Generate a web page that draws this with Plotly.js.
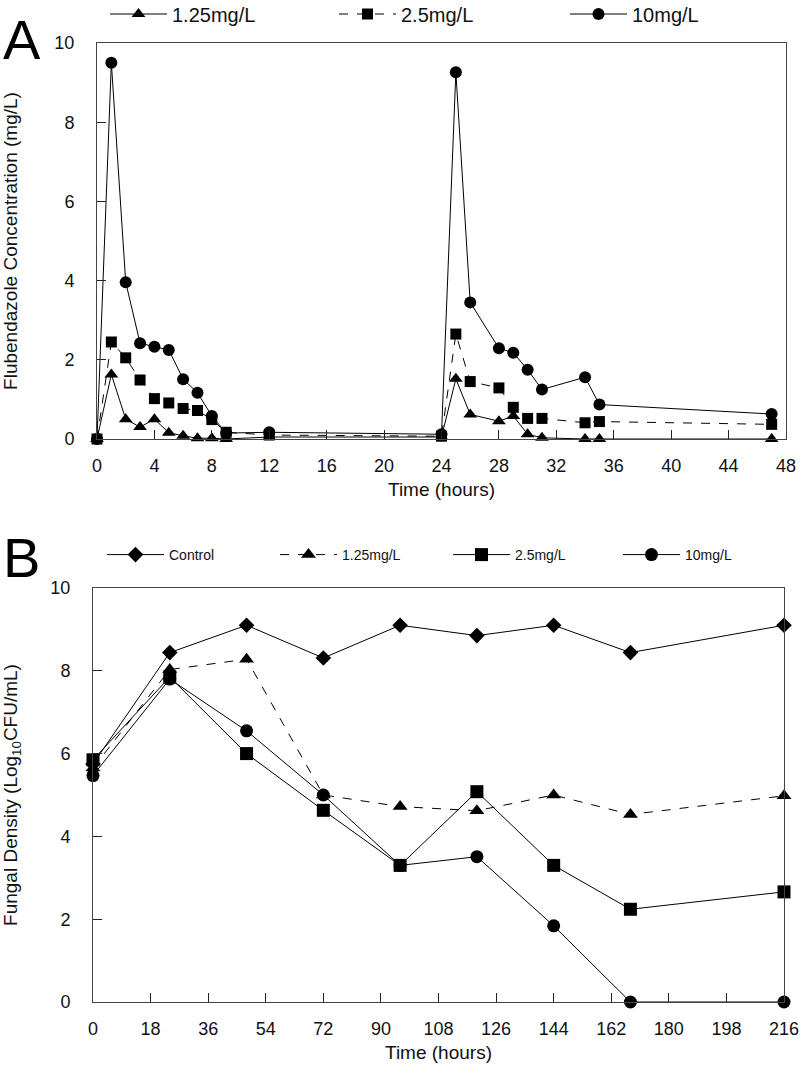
<!DOCTYPE html>
<html>
<head>
<meta charset="utf-8">
<script src="https://cdn.plot.ly/plotly-3.0.1.min.js"></script>
<style>html,body{margin:0;padding:0;background:#fff;}#chart{width:800px;height:1068px;}</style>
</head>
<body>
<div id="chart"></div>
<script>
// ---- Panel A: flubendazole concentration (mg/L) vs time (hours)
const timeA = [0, 1, 2, 3, 4, 5, 6, 7, 8, 9, 12, 24, 25, 26, 28, 29, 30, 31, 34, 35, 47];
const concA_125 = [0, 1.63, 0.50, 0.30, 0.50, 0.16, 0.08, 0.02, 0.02, 0.00, 0.05, 0.05, 1.52, 0.62, 0.45, 0.58, 0.12, 0.03, 0.00, 0.00, 0.00];
const concA_25  = [0, 2.45, 2.05, 1.49, 1.02, 0.91, 0.77, 0.72, 0.49, 0.17, 0.10, 0.07, 2.65, 1.45, 1.29, 0.80, 0.52, 0.52, 0.41, 0.44, 0.37];
const concA_10  = [0, 9.50, 3.96, 2.42, 2.33, 2.25, 1.51, 1.17, 0.58, 0.15, 0.17, 0.12, 9.26, 3.45, 2.29, 2.18, 1.75, 1.25, 1.56, 0.87, 0.63];
const namesA = ['1.25mg/L', '2.5mg/L', '10mg/L'];
const ticksAx = [0, 4, 8, 12, 16, 20, 24, 28, 32, 36, 40, 44, 48];
const ticksAy = [0, 2, 4, 6, 8, 10];

// ---- Panel B: fungal density (log10 CFU/mL) vs time (hours)
const timeB = [0, 24, 48, 72, 96, 120, 144, 168, 216];
const densB_control = [5.75, 8.44, 9.10, 8.31, 9.10, 8.85, 9.10, 8.44, 9.10];
const densB_125     = [5.65, 8.03, 8.28, 5.00, 4.72, 4.62, 5.00, 4.53, 4.98];
const densB_25      = [5.85, 7.85, 6.00, 4.63, 3.30, 5.08, 3.30, 2.24, 2.66];
const densB_10      = [5.47, 7.80, 6.55, 5.00, 3.30, 3.51, 1.84, 0.00, 0.00];
const namesB = ['Control', '1.25mg/L', '2.5mg/L', '10mg/L'];
const ticksBx = [0, 18, 36, 54, 72, 90, 108, 126, 144, 162, 180, 198, 216];
const ticksBy = [0, 2, 4, 6, 8, 10];

const FONT = "'Liberation Sans', Arial, sans-serif";
const W = 800, H = 1068;
const M = {l: 93, r: 14, t: 43, b: 66};
const PW = W - M.l - M.r, PH = H - M.t - M.b;
// pixel -> paper coordinates
const px = v => (v - M.l) / PW;
const py = v => (H - M.b - v) / PH;

function tr(x, y, name, symbol, size, dash, xa, ya, legend) {
  return {
    x: x, y: y, name: name, type: 'scatter', mode: 'lines+markers',
    xaxis: xa, yaxis: ya, legend: legend, cliponaxis: false,
    line: {color: '#000', width: 1, dash: dash},
    marker: {symbol: symbol, size: size, color: '#000'}
  };
}

const data = [
  tr(timeA, concA_125, namesA[0], 'triangle-up', 12, 'solid', 'x', 'y', 'legend'),
  tr(timeA, concA_25,  namesA[1], 'square', 11, 'dash', 'x', 'y', 'legend2'),
  tr(timeA, concA_10,  namesA[2], 'circle', 12, 'solid', 'x', 'y', 'legend3'),
  tr(timeB, densB_control, namesB[0], 'diamond', 12, 'solid', 'x2', 'y2', 'legend4'),
  tr(timeB, densB_125,     namesB[1], 'triangle-up', 13, 'dash', 'x2', 'y2', 'legend5'),
  tr(timeB, densB_25,      namesB[2], 'square', 13, 'solid', 'x2', 'y2', 'legend6'),
  tr(timeB, densB_10,      namesB[3], 'circle', 13, 'solid', 'x2', 'y2', 'legend7')
];

const titleFont = {family: FONT, size: 19, color: '#111'};
const axisBase = {
  showline: true, mirror: true, linecolor: '#444', linewidth: 1,
  ticks: 'inside', ticklen: 9, tickcolor: '#222', tickwidth: 1,
  showgrid: false, zeroline: false, ticklabeloverflow: 'allow',
  tickfont: {family: FONT, size: 18, color: '#111'}
};

function legendAt(xpx, ypx, size) {
  return {
    x: px(xpx), y: py(ypx), xanchor: 'left', yanchor: 'middle',
    orientation: 'h', bgcolor: 'rgba(0,0,0,0)', borderwidth: 0,
    itemwidth: 57, font: {family: FONT, size: size, color: '#111'}
  };
}

const layout = {
  width: W, height: H,
  margin: {l: M.l, r: M.r, t: M.t, b: M.b, autoexpand: false},
  paper_bgcolor: '#fff', plot_bgcolor: '#fff',
  showlegend: true,
  xaxis: Object.assign({}, axisBase, {
    domain: [px(97), px(786)], anchor: 'y', range: [0, 48],
    tickvals: ticksAx, ticklabelstandoff: 10,
    title: {text: 'Time (hours)', standoff: 8, font: titleFont}
  }),
  yaxis: Object.assign({}, axisBase, {
    domain: [py(439), py(43)], anchor: 'x', range: [0, 10],
    tickvals: ticksAy, ticklabelstandoff: 18,
    title: {text: 'Flubendazole Concentration (mg/L)', standoff: 32, font: titleFont}
  }),
  xaxis2: Object.assign({}, axisBase, {
    domain: [px(93), px(784)], anchor: 'y2', range: [0, 216],
    tickvals: ticksBx, ticklabelstandoff: 10,
    title: {text: 'Time (hours)', standoff: 8, font: titleFont}
  }),
  yaxis2: Object.assign({}, axisBase, {
    domain: [py(1002), py(588)], anchor: 'x2', range: [0, 10],
    tickvals: ticksBy, ticklabelstandoff: 18,
    title: {text: 'Fungal Density (Log<sub>10</sub>CFU/mL)', standoff: 32, font: titleFont}
  }),
  legend:  legendAt(105, 14, 20),
  legend2: legendAt(334, 14, 20),
  legend3: legendAt(565, 14, 20),
  legend4: legendAt(102, 555, 14),
  legend5: legendAt(275, 555, 14),
  legend6: legendAt(448, 555, 14),
  legend7: legendAt(618, 555, 14),
  annotations: [
    {text: 'A', xref: 'paper', yref: 'paper', x: px(1), y: py(6), xanchor: 'left', yanchor: 'top',
     showarrow: false, font: {family: FONT, size: 56, color: '#000'}},
    {text: 'B', xref: 'paper', yref: 'paper', x: px(1), y: py(524), xanchor: 'left', yanchor: 'top',
     showarrow: false, font: {family: FONT, size: 56, color: '#000'}}
  ]
};

Plotly.newPlot('chart', data, layout, {staticPlot: true, displayModeBar: false});
</script>
</body>
</html>
